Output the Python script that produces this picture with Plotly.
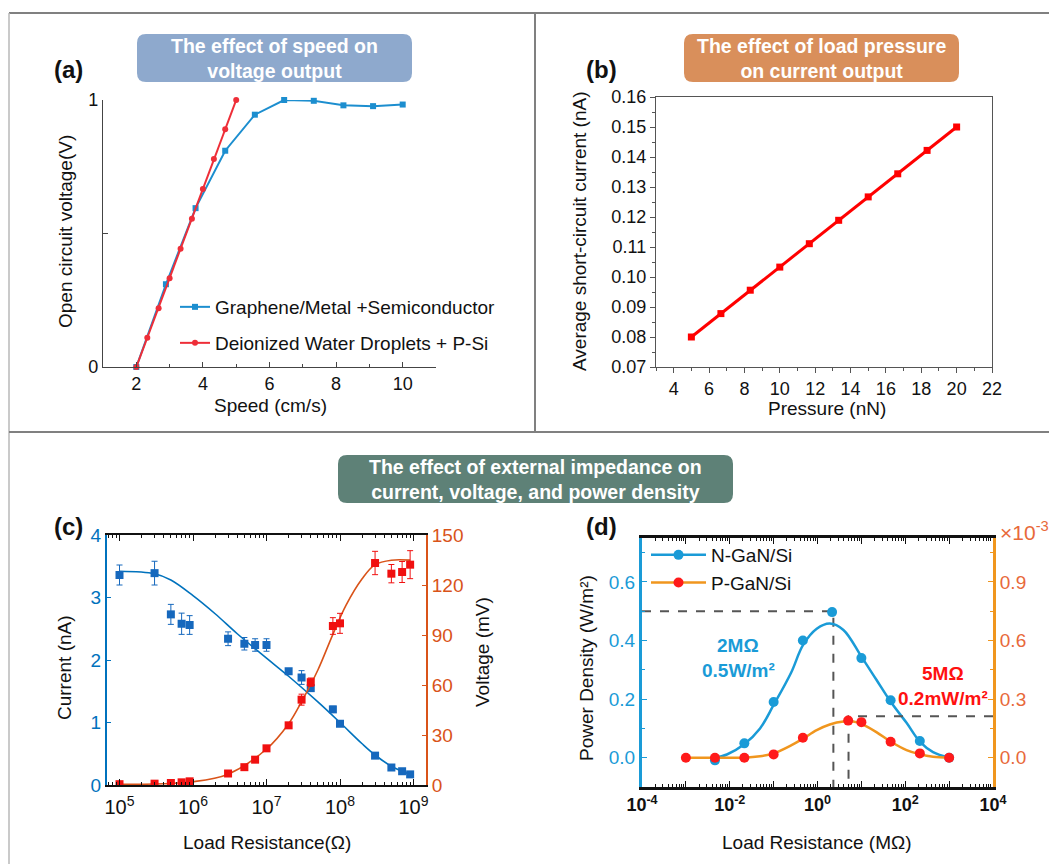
import plotly.graph_objects as go

W, H = 1049, 864
FONT = "Liberation Sans, Arial, sans-serif"

# ---------------- data ----------------
# (a) speed vs open-circuit voltage
a_speed_gm = [2.0, 2.89, 3.78, 4.67, 5.56, 6.44, 7.33, 8.22, 9.11, 10.0]
a_volt_gm = [0.0, 0.31, 0.595, 0.81, 0.945, 1.0, 0.997, 0.98, 0.977, 0.983]
a_speed_dw = [2.0, 2.33, 2.67, 3.0, 3.33, 3.67, 4.0, 4.33, 4.67, 5.0]
a_volt_dw = [0.0, 0.11, 0.22, 0.332, 0.443, 0.555, 0.667, 0.779, 0.89, 1.0]
a_names = ["Graphene/Metal +Semiconductor", "Deionized Water Droplets + P-Si"]

# (b) pressure vs current
b_pressure = [5.0, 6.67, 8.33, 10.0, 11.67, 13.33, 15.0, 16.67, 18.33, 20.0]
b_current = [0.0800, 0.0878, 0.0956, 0.1033, 0.1111, 0.1189, 0.1267, 0.1344, 0.1422, 0.1500]

# (c) load resistance vs current / voltage
c_res = [1e5, 3e5, 5e5, 7e5, 9e5, 3e6, 5e6, 7e6, 1e7, 2e7, 3e7, 4e7, 8e7, 1e8, 3e8, 5e8, 7e8, 9e8]
c_current = [3.36, 3.39, 2.73, 2.58, 2.56, 2.34, 2.26, 2.24, 2.24, 1.82, 1.72, 1.55, 1.21, 0.98, 0.47, 0.28, 0.22, 0.17]
c_current_err = [0.16, 0.19, 0.16, 0.17, 0.15, 0.11, 0.1, 0.1, 0.1, 0.04, 0.11, 0.04, 0.05, 0.03, 0.03, 0.03, 0.03, 0.03]
c_voltage = [0.5, 0.8, 1.2, 1.6, 2.2, 6.9, 10.7, 15.2, 22.0, 35.8, 51.2, 61.7, 95.4, 97.0, 133.2, 126.8, 127.8, 132.2]
c_voltage_err = [0.3, 0.3, 0.3, 0.3, 0.3, 0.5, 0.5, 0.5, 0.5, 0.8, 3.3, 2.5, 5.0, 6.0, 7.0, 5.5, 6.3, 8.4]
c_fit_res_i = [1e5, 3e5, 5e5, 1e6, 2e6, 4e6, 1e7, 2e7, 5e7, 1e8, 2e8, 3e8, 5e8, 9e8]
c_fit_current = [3.42, 3.38, 3.28, 3.03, 2.74, 2.42, 2.03, 1.74, 1.33, 1.0, 0.66, 0.48, 0.30, 0.17]
c_fit_res_v = [1e5, 1e6, 3e6, 1e7, 2e7, 3e7, 5e7, 8e7, 1.2e8, 2e8, 3e8, 5e8, 9e8]
c_fit_voltage = [0.4, 2.0, 6.5, 21.6, 36.8, 50.0, 69.0, 90.4, 107.6, 123.7, 132.2, 134.9, 134.9]
c_xticks = [1e5, 1e6, 1e7, 1e8, 1e9]
c_xticklabels = ["10<sup>5</sup>", "10<sup>6</sup>", "10<sup>7</sup>", "10<sup>8</sup>", "10<sup>9</sup>"]

# (d) load resistance vs power density
d_res_n = [0.0046, 0.0215, 0.1, 0.464, 2.15, 10, 46.4, 215, 1000]
d_pow_n = [-0.009, 0.049, 0.19, 0.40, 0.497, 0.34, 0.196, 0.057, 0.0]
d_res_p = [0.001, 0.0046, 0.0215, 0.1, 0.464, 5.0, 10, 46.4, 215, 1000]
d_pow_p = [0.0, 0.0, 0.0, 0.017, 0.102, 0.19, 0.182, 0.0815, 0.022, 0.0]  # x1e-3
d_fit_res_n = [0.0045, 0.0086, 0.021, 0.049, 0.1, 0.25, 0.47, 0.96, 1.9, 3.9, 10, 22, 47, 107, 220, 430, 1000]
d_fit_pow_n = [0.0, 0.011, 0.045, 0.10, 0.18, 0.29, 0.385, 0.44, 0.458, 0.436, 0.345, 0.266, 0.19, 0.119, 0.053, 0.019, 0.0]
d_fit_res_p = [0.001, 0.0045, 0.021, 0.049, 0.1, 0.25, 0.47, 0.96, 1.9, 3.9, 6.5, 10, 22, 47, 107, 220, 430, 1000]
d_fit_pow_p = [0.0, 0.0, 0.0, 0.007, 0.022, 0.063, 0.098, 0.141, 0.17, 0.185, 0.185, 0.173, 0.131, 0.0815, 0.039, 0.017, 0.005, 0.0]
d_guide_n_x = [1e-4, 2.3, 2.3]
d_guide_n_y = [0.5, 0.5, -0.1]
d_guide_p_x = [1e4, 5.1, 5.1]
d_guide_p_y = [0.212, 0.212, -0.15]
d_xticks = [1e-4, 1e-3, 1e-2, 1e-1, 1, 10, 1e2, 1e3, 1e4]
d_xticklabels = ["10<sup>-4</sup>", "", "10<sup>-2</sup>", "", "10<sup>0</sup>", "", "10<sup>2</sup>", "", "10<sup>4</sup>"]

# ---------------- colours ----------------
A_BLUE, A_RED = "#1C8ECF", "#EE2E38"
C_BLUE, C_ORANGE, C_RED = "#0072BD", "#D95319", "#F01010"
D_BLUE, D_ORANGE, D_RED, D_TXT = "#1A9BD7", "#F0961E", "#FF1A1A", "#E8693A"


def X(v):
    return v / W


def Y(v):
    return 1 - v / H


fig = go.Figure()

# (a)
fig.add_trace(go.Scatter(x=a_speed_gm, y=a_volt_gm, mode="lines+markers", name=a_names[0],
                         line=dict(color=A_BLUE, width=2), marker=dict(symbol="square", size=6, color=A_BLUE),
                         xaxis="x", yaxis="y", legend="legend", cliponaxis=False))
fig.add_trace(go.Scatter(x=a_speed_dw, y=a_volt_dw, mode="lines+markers", name=a_names[1],
                         line=dict(color=A_RED, width=2), marker=dict(symbol="circle", size=6, color=A_RED),
                         xaxis="x", yaxis="y", legend="legend2", cliponaxis=False))
# (b)
fig.add_trace(go.Scatter(x=b_pressure, y=b_current, mode="lines+markers", showlegend=False,
                         line=dict(color="#FF0000", width=3), marker=dict(symbol="square", size=7, color="#FF0000"),
                         xaxis="x2", yaxis="y2", cliponaxis=False))
# (c)
fig.add_trace(go.Scatter(x=c_fit_res_i, y=c_fit_current, mode="lines", line=dict(color=C_BLUE, width=1.6, shape="spline"),
                         showlegend=False, xaxis="x3", yaxis="y3"))
fig.add_trace(go.Scatter(x=c_res, y=c_current, mode="markers", showlegend=False,
                         marker=dict(symbol="square", size=8, color="#1668BD"),
                         error_y=dict(type="data", array=c_current_err, color="#1668BD", thickness=1, width=3),
                         xaxis="x3", yaxis="y3"))
fig.add_trace(go.Scatter(x=c_fit_res_v, y=c_fit_voltage, mode="lines", line=dict(color=C_ORANGE, width=1.6, shape="spline"),
                         showlegend=False, xaxis="x3", yaxis="y5"))
fig.add_trace(go.Scatter(x=c_res, y=c_voltage, mode="markers", showlegend=False,
                         marker=dict(symbol="square", size=8, color=C_RED),
                         error_y=dict(type="data", array=c_voltage_err, color=C_RED, thickness=1, width=3),
                         xaxis="x3", yaxis="y5"))
# (d)
fig.add_trace(go.Scatter(x=d_guide_n_x, y=d_guide_n_y, mode="lines", line=dict(color="#555555", width=2, dash="dash"),
                         showlegend=False, xaxis="x4", yaxis="y4"))
fig.add_trace(go.Scatter(x=d_guide_p_x, y=d_guide_p_y, mode="lines", line=dict(color="#555555", width=2, dash="dash"),
                         showlegend=False, xaxis="x4", yaxis="y6"))
fig.add_trace(go.Scatter(x=d_fit_res_n, y=d_fit_pow_n, mode="lines", line=dict(color=D_BLUE, width=2.5, shape="spline"),
                         showlegend=False, xaxis="x4", yaxis="y4"))
fig.add_trace(go.Scatter(x=d_res_n, y=d_pow_n, mode="markers", showlegend=False,
                         marker=dict(symbol="circle", size=10, color=D_BLUE), xaxis="x4", yaxis="y4"))
fig.add_trace(go.Scatter(x=d_fit_res_p, y=d_fit_pow_p, mode="lines", line=dict(color=D_ORANGE, width=2.5, shape="spline"),
                         showlegend=False, xaxis="x4", yaxis="y6"))
fig.add_trace(go.Scatter(x=d_res_p, y=d_pow_p, mode="markers", showlegend=False,
                         marker=dict(symbol="circle", size=10, color=D_RED), xaxis="x4", yaxis="y6"))
# legend entries for (d)
fig.add_trace(go.Scatter(x=[None], y=[None], mode="lines+markers", name="N-GaN/Si",
                         line=dict(color=D_BLUE, width=2.5), marker=dict(size=10, color=D_BLUE),
                         xaxis="x4", yaxis="y4", legend="legend3"))
fig.add_trace(go.Scatter(x=[None], y=[None], mode="lines+markers", name="P-GaN/Si",
                         line=dict(color=D_ORANGE, width=2.5), marker=dict(size=10, color=D_RED),
                         xaxis="x4", yaxis="y4", legend="legend3"))

tick18 = dict(family=FONT, size=18, color="#111111")
common = dict(showgrid=False, zeroline=False, automargin=False, showline=True)

layout = dict(
    width=W, height=H, margin=dict(l=0, r=0, t=0, b=0), template="none",
    paper_bgcolor="white", plot_bgcolor="rgba(0,0,0,0)", font=dict(family=FONT, size=18, color="#111111"),
    # (a)
    xaxis=dict(domain=[X(103), X(436)], anchor="y", range=[1, 11], tickvals=[2, 4, 6, 8, 10],
               ticks="inside", ticklen=5, tickcolor="#444", linecolor="#444", linewidth=1.2, tickfont=tick18,
               minor=dict(ticks="inside", ticklen=3, tickvals=[3, 5, 7, 9], tickcolor="#444"), **common),
    yaxis=dict(domain=[Y(367), Y(100)], anchor="x", range=[0, 1], tickvals=[0, 0.5, 1], ticktext=["0", "", "1"],
               ticks="inside", ticklen=5, tickcolor="#444", linecolor="#444", linewidth=1.2, tickfont=tick18, **common),
    # (b)
    xaxis2=dict(domain=[X(656), X(992)], anchor="y2", range=[3, 22], tickmode="linear", tick0=4, dtick=2,
                ticks="outside", ticklen=5, tickcolor="#555", linecolor="#555", linewidth=1.2, mirror=True,
                tickfont=tick18, minor=dict(ticks="outside", ticklen=3, dtick=1, tick0=3, tickcolor="#555"), **common),
    yaxis2=dict(domain=[Y(367), Y(97)], anchor="x2", range=[0.07, 0.16], tickmode="linear", tick0=0.07, dtick=0.01,
                tickformat=".2f", ticks="outside", ticklen=5, tickcolor="#555", linecolor="#555", linewidth=1.2,
                mirror=True, tickfont=tick18, minor=dict(ticks="outside", ticklen=3, dtick=0.005, tick0=0.07, tickcolor="#555"),
                **common),
    # (c)
    xaxis3=dict(domain=[X(107), X(426)], anchor="y3", type="log", range=[4.83, 9.17], tickmode="array",
                tickvals=c_xticks, ticktext=c_xticklabels, ticks="inside", ticklen=6, tickcolor="#111",
                linecolor="#111", linewidth=2, mirror="ticks", tickfont=dict(family=FONT, size=20, color="#111"),
                ticklabelstandoff=3,
                minor=dict(ticks="inside", ticklen=3, tickcolor="#111",
                           tickvals=[m * 10 ** e for e in range(4, 10) for m in range(2, 10)]), **common),
    yaxis3=dict(domain=[Y(785), Y(535)], anchor="x3", range=[0, 4], tickmode="linear", tick0=0, dtick=1,
                ticks="inside", ticklen=4, tickcolor=C_BLUE, linecolor=C_BLUE, linewidth=2,
                tickfont=dict(family=FONT, size=19, color=C_BLUE), **common),
    yaxis5=dict(overlaying="y3", side="right", anchor="x3", range=[0, 150], tickmode="linear", tick0=0, dtick=30,
                ticks="inside", ticklen=4, tickcolor=C_ORANGE, linecolor=C_ORANGE, linewidth=2,
                tickfont=dict(family=FONT, size=19, color=C_ORANGE), **common),
    # (d)
    xaxis4=dict(domain=[X(642), X(993)], anchor="y4", type="log", range=[-4, 4], tickmode="array",
                tickvals=d_xticks, ticktext=d_xticklabels, ticks="inside", ticklen=6, tickcolor="#111",
                linecolor="#111", linewidth=2.5, mirror="ticks",
                tickfont=dict(family=FONT, size=18, color="#111", weight="bold"),
                minor=dict(ticks="inside", ticklen=3, tickcolor="#111",
                           tickvals=[m * 10 ** e for e in range(-4, 4) for m in range(2, 10)]), **common),
    yaxis4=dict(domain=[Y(787), Y(538)], anchor="x4", range=[-0.1, 0.75], tickmode="array",
                tickvals=[0, 0.2, 0.4, 0.6], ticktext=["0.0", "0.2", "0.4", "0.6"], ticks="inside", ticklen=5,
                tickcolor=D_BLUE, linecolor=D_BLUE, linewidth=3,
                tickfont=dict(family=FONT, size=19, color=D_BLUE),
                minor=dict(ticks="inside", ticklen=3, tickcolor=D_BLUE, tickvals=[-0.1, 0.1, 0.3, 0.5, 0.7]), **common),
    yaxis6=dict(overlaying="y4", side="right", anchor="x4", range=[-0.15, 1.125], tickmode="array",
                tickvals=[0, 0.3, 0.6, 0.9], ticktext=["0.0", "0.3", "0.6", "0.9"], ticks="inside", ticklen=5,
                tickcolor=D_ORANGE, linecolor=D_ORANGE, linewidth=3,
                tickfont=dict(family=FONT, size=19, color=D_TXT),
                minor=dict(ticks="inside", ticklen=3, tickcolor=D_ORANGE, tickvals=[0.15, 0.45, 0.75, 1.05]), **common),
    legend=dict(x=X(175), y=Y(307), xanchor="left", yanchor="middle", bgcolor="rgba(0,0,0,0)",
                font=dict(family=FONT, size=19, color="#111")),
    legend2=dict(x=X(175), y=Y(343), xanchor="left", yanchor="middle", bgcolor="rgba(0,0,0,0)",
                 font=dict(family=FONT, size=19, color="#111")),
    legend3=dict(x=X(646), y=Y(569), xanchor="left", yanchor="middle", bgcolor="rgba(0,0,0,0)",
                 font=dict(family=FONT, size=19, color="#111"), tracegroupgap=0, itemwidth=55),
)
fig.update_layout(**layout)


def rbox(x0, y0, x1, y1, color, r=9):
    p = (f"M {X(x0 + r)},{Y(y0)} L {X(x1 - r)},{Y(y0)} Q {X(x1)},{Y(y0)} {X(x1)},{Y(y0 + r)} "
         f"L {X(x1)},{Y(y1 - r)} Q {X(x1)},{Y(y1)} {X(x1 - r)},{Y(y1)} "
         f"L {X(x0 + r)},{Y(y1)} Q {X(x0)},{Y(y1)} {X(x0)},{Y(y1 - r)} "
         f"L {X(x0)},{Y(y0 + r)} Q {X(x0)},{Y(y0)} {X(x0 + r)},{Y(y0)} Z")
    return dict(type="path", xref="paper", yref="paper", path=p, fillcolor=color, line=dict(width=0), layer="below")


def pline(x0, y0, x1, y1, color="#808080", width=2):
    return dict(type="line", xref="paper", yref="paper", x0=X(x0), y0=Y(y0), x1=X(x1), y1=Y(y1),
                line=dict(color=color, width=width))


shapes = [
    rbox(137, 34, 412, 82, "#8EA9CD"),
    rbox(684, 34, 959, 82, "#D98F5B"),
    rbox(338, 455, 733, 503, "#5E8177"),
    pline(9, 13, 1049, 13),
    pline(9, 13, 9, 864, color="#b8b8b8", width=1.5),
    pline(535, 13, 535, 432),
    pline(9, 432, 1049, 432),
]
fig.update_layout(shapes=shapes)


def ann(text, x, y, size=19, color="#111111", bold=False, angle=0, xanchor="center", yanchor="middle"):
    return dict(text=text, x=X(x), y=Y(y), xref="paper", yref="paper", showarrow=False, textangle=angle,
                xanchor=xanchor, yanchor=yanchor,
                font=dict(family=FONT, size=size, color=color, weight="bold" if bold else "normal"))


anns = [
    ann("The effect of speed on<br>voltage output", 274.5, 58, size=19.5, color="white", bold=True),
    ann("The effect of load pressure<br>on current output", 821.5, 58, size=19.5, color="white", bold=True),
    ann("The effect of external impedance on<br>current, voltage, and power density", 535.5, 479, size=19.5,
        color="white", bold=True),
    ann("(a)", 69, 70, size=24, bold=True),
    ann("(b)", 601, 70, size=24, bold=True),
    ann("(c)", 69, 526, size=24, bold=True),
    ann("(d)", 601, 526, size=24, bold=True),
    ann("Open circuit voltage(V)", 65, 232, angle=-90),
    ann("Speed (cm/s)", 270, 405),
    ann("Average short-circuit current (nA)", 579, 232, angle=-90),
    ann("Pressure (nN)", 827, 408),
    ann("Current (nA)", 64, 668, angle=-90),
    ann("Voltage (mV)", 482, 652, angle=-90),
    ann("Load Resistance(Ω)", 267, 842),
    ann("Power Density (W/m²)", 586, 668, angle=-90),
    ann("Load Resistance (MΩ)", 817, 842),
    ann("2MΩ", 738, 645, size=19, color=D_BLUE, bold=True),
    ann("0.5W/m²", 738, 670, size=19, color=D_BLUE, bold=True),
    ann("5MΩ", 943, 673, size=19, color="#FF1010", bold=True),
    ann("0.2mW/m²", 943, 698, size=19, color="#FF1010", bold=True),
    ann("×10<sup>-3</sup>", 998, 531, size=21, color=D_TXT, xanchor="left"),
]
fig.update_layout(annotations=anns)

fig.write_html("out.html", config={"displayModeBar": False},
               post_script="document.body.style.margin='0';")
